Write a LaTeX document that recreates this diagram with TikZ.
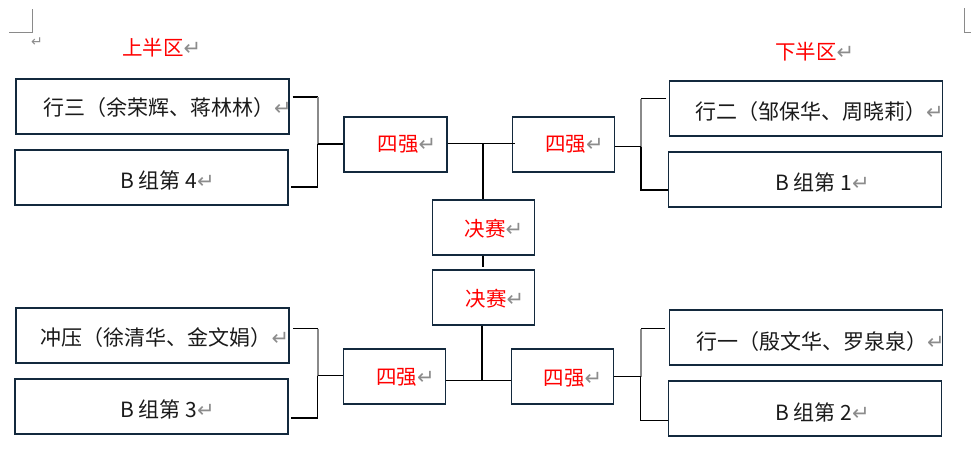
\documentclass[tikz,border=0pt]{standalone}
\usepackage{fontspec}
\usetikzlibrary{calc}
\newfontfamily\cjk{Noto Sans CJK SC}
\newfontfamily\dvfont{DejaVu Sans}
\definecolor{boxc}{HTML}{13293D}
\definecolor{retc}{HTML}{8C8C8C}
\definecolor{gline}{HTML}{8A8A8A}
\definecolor{txt}{HTML}{1A1A1A}
\definecolor{redt}{HTML}{FF0000}
\newcommand\retmark{{\color{retc}\dvfont\fontsize{21}{21}\selectfont ↵}}
\tikzset{
  bigbox/.style={draw=boxc, line width=1.4pt, minimum width=273pt, minimum height=55pt, inner sep=0pt},
  smallbox/.style={draw=boxc, line width=1.4pt, minimum width=102pt, minimum height=55pt, inner sep=0pt},
  conn/.style={draw=black, line width=1.2pt},
  gconn/.style={draw=gline, line width=2pt},
  lbl/.style={anchor=west, inner sep=0pt, text=txt, font=\cjk\fontsize{21}{24}\selectfont},
  rlbl/.style={anchor=west, inner sep=0pt, text=redt, font=\cjk\fontsize{20.5}{24}\selectfont},
  crop/.style={draw=gline, line width=0.9pt}
}
\begin{document}
\begin{tikzpicture}[x=1pt,y=-1pt]
\fill[white] (0,0) rectangle (971,475);
\useasboundingbox (0,0) rectangle (971,475);

% crop marks
\coordinate (cm1) at (9,32);
\coordinate (cm2) at (32,32);
\coordinate (cm3) at (32,9);
\draw[crop] (cm1) -- (cm2) -- (cm3);
\coordinate (cm4) at (964.5,8);
\coordinate (cm5) at (964.5,32);
\coordinate (cm6) at (971,32);
\draw[crop] (cm4) -- (cm5) -- (cm6);
\node[anchor=center, inner sep=0pt] (rm0) at (37,42) {{\color{retc}\dvfont\fontsize{14}{14}\selectfont ↵}};

% section titles
\node[rlbl] (up) at (122,48) {上半区\retmark};
\node[rlbl] (down) at (775,51.5) {下半区\retmark};

% team boxes
\node[bigbox] (t3) at (152.5,106.5) {};
\node[bigbox] (b4) at (151.5,177.5) {};
\node[bigbox] (cy) at (152.5,335.5) {};
\node[bigbox] (b3) at (151.5,406.5) {};
\node[bigbox] (t2) at (805.75,108.5) {};
\node[bigbox] (b1) at (804.75,179.5) {};
\node[bigbox] (t1) at (805.75,337.5) {};
\node[bigbox] (b2) at (804.75,408.5) {};

% round boxes
\node[smallbox, minimum width=103pt] (q1) at (395.5,144.5) {};
\node[smallbox] (q2) at (563.25,144.5) {};
\node[smallbox] (q3) at (394.5,376.5) {};
\node[smallbox] (q4) at (562.5,376.5) {};
\node[smallbox] (f1) at (483.5,227.5) {};
\node[smallbox] (f2) at (483.5,297.5) {};

% texts
\node[lbl] (t3t) at (43,108) {行三（余荣辉、蒋林林）\retmark};
\node[lbl] (b4t) at (120,180) {B 组第 4\retmark};
\node[lbl] (cyt) at (40.5,337.5) {冲压（徐清华、金文娟）\retmark};
\node[lbl] (b3t) at (120,409) {B 组第 3\retmark};
\node[lbl] (t2t) at (695,111.5) {行二（邹保华、周晓莉）\retmark};
\node[lbl] (b1t) at (775,182.5) {B 组第 1\retmark};
\node[lbl] (t1t) at (696,341.5) {行一（殷文华、罗泉泉）\retmark};
\node[lbl] (b2t) at (775,412.5) {B 组第 2\retmark};
\node[rlbl] (q1t) at (377.5,144) {四强\retmark};
\node[rlbl] (q2t) at (545,144) {四强\retmark};
\node[rlbl] (q3t) at (376,377.5) {四强\retmark};
\node[rlbl] (q4t) at (543.5,378.5) {四强\retmark};
\node[rlbl] (f1t) at (464.5,229) {决赛\retmark};
\node[rlbl] (f2t) at (465.5,299) {决赛\retmark};

% left top bracket
\coordinate (la1) at (317.5,97);
\coordinate (ja) at (317.5,144);
\coordinate (la2) at (317.5,187);
\draw[conn] ($(t3.east|-la1)+(3,0)$) -- (la1);
\draw[gconn] (la1) -- (ja);
\draw[conn] (ja) -- (la2) -- ($(b4.east|-la2)+(2,0)$);
\draw[conn] (ja) -- (q1.west|-ja);

% right top bracket
\coordinate (ra1) at (641,98.5);
\coordinate (rj) at (641,146.5);
\coordinate (ra2) at (641,190);
\draw[conn] ($(t2.west|-ra1)+(-2.5,0)$) -- (ra1);
\draw[gconn] (ra1) -- (rj);
\draw[conn] (rj) -- (ra2) -- (b1.west|-ra2);
\draw[conn] (rj) -- (q2.east|-rj);

% top centre
\coordinate (ct) at (483,143.5);
\draw[conn] (q1.east|-ct) -- ($(q2.west|-ct)+(3,0)$);
\draw[conn] (ct) -- (f1.north-|ct);
\draw[conn] (f1.south-|ct) -- ($(f2.north-|ct)+(0,-2)$);

% bottom centre
\coordinate (cb) at (482,380.5);
\draw[conn] (f2.south-|cb) -- (cb);
\draw[conn] (q3.east|-cb) -- (q4.west|-cb);

% left bottom bracket
\coordinate (lb1) at (317.5,328.5);
\coordinate (jl) at (317.5,375.5);
\coordinate (lb2) at (317.5,418);
\draw[conn] ($(cy.east|-lb1)+(3.5,0)$) -- (lb1);
\draw[gconn] (lb1) -- (jl);
\draw[conn] (jl) -- (lb2) -- ($(b3.east|-lb2)+(2.5,0)$);
\draw[conn] (jl) -- (q3.west|-jl);

% right bottom bracket
\coordinate (rb1) at (640.5,328.5);
\coordinate (rj2) at (640.5,376.5);
\coordinate (rb2) at (640.5,420.5);
\draw[conn] ($(t1.west|-rb1)+(-3.5,0)$) -- (rb1);
\draw[gconn] (rb1) -- (rj2);
\draw[conn] (rj2) -- (rb2) -- (b2.west|-rb2);
\draw[conn] (rj2) -- (q4.east|-rj2);
\end{tikzpicture}
\end{document}
